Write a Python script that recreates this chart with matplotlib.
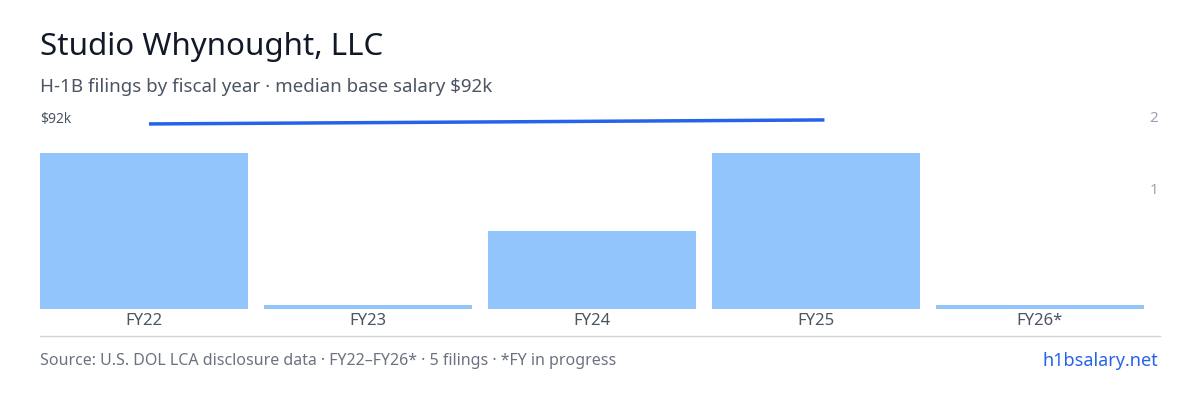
import matplotlib
matplotlib.use("Agg")
import matplotlib.pyplot as plt

categories = ["FY22", "FY23", "FY24", "FY25", "FY26*"]
filings = [2, 0, 1, 2, 0]
salary_k = [91.0, 91.5, 92.0, 92.0]  # FY22..FY25 median salary ($k)
right_ticks = [1, 2]

fig = plt.figure(figsize=(12, 4), dpi=100)
fig.patch.set_facecolor("white")
ax = fig.add_axes([32/1200, 1-309/400, 1120/1200, (309-110)/400])
x = list(range(len(categories)))
disp = [max(v, 0.05) for v in filings]
ax.bar(x, disp, width=0.93, color="#93c5fd")
ax.set_xlim(-0.5, len(categories)-0.5)
ax.set_ylim(0, 2*(309-110)/(309-153))
for s in ax.spines.values():
    s.set_visible(False)
ax.set_yticks([])
ax.set_xticks(x)
ax.set_xticklabels(categories, fontsize=12, color="#4b5563", family="Noto Sans")
ax.tick_params(axis="x", length=0, pad=3)

ax2 = ax.twinx()
ax2.set_ylim(44.5, 94.5)
ax2.plot([0.03, 3.03], [salary_k[0], salary_k[-1]], color="#2563eb", lw=2.5)
ax2.axis("off")

fig.add_artist(plt.Line2D([40/1200, 1160/1200], [1-336/400]*2, color="#d1d5db", lw=1))
fig.text(40/1200, 1-47/400, "Studio Whynought, LLC", fontsize=22.5, color="#111827", family="Noto Sans", va="center")
fig.text(40/1200, 1-87/400, "H-1B filings by fiscal year · median base salary $92k", fontsize=13.5, color="#4b5563", family="Noto Sans", va="center")
fig.text(40/1200, 1-120/400, "$92k", fontsize=10, color="#4b5563", family="Noto Sans", va="center")
fig.text(1158/1200, 1-119/400, str(right_ticks[1]), fontsize=11, color="#9ca3af", family="Noto Sans", va="center", ha="right")
fig.text(1158/1200, 1-190/400, str(right_ticks[0]), fontsize=11, color="#9ca3af", family="Noto Sans", va="center", ha="right")
fig.text(40/1200, 1-361/400, "Source: U.S. DOL LCA disclosure data · FY22–FY26* · 5 filings · *FY in progress", fontsize=11.5, color="#6b7280", family="Noto Sans", va="center")
fig.text(1158/1200, 1-361/400, "h1bsalary.net", fontsize=13, color="#2563eb", family="Noto Sans", va="center", ha="right")
fig.savefig("out.png", dpi=100)
